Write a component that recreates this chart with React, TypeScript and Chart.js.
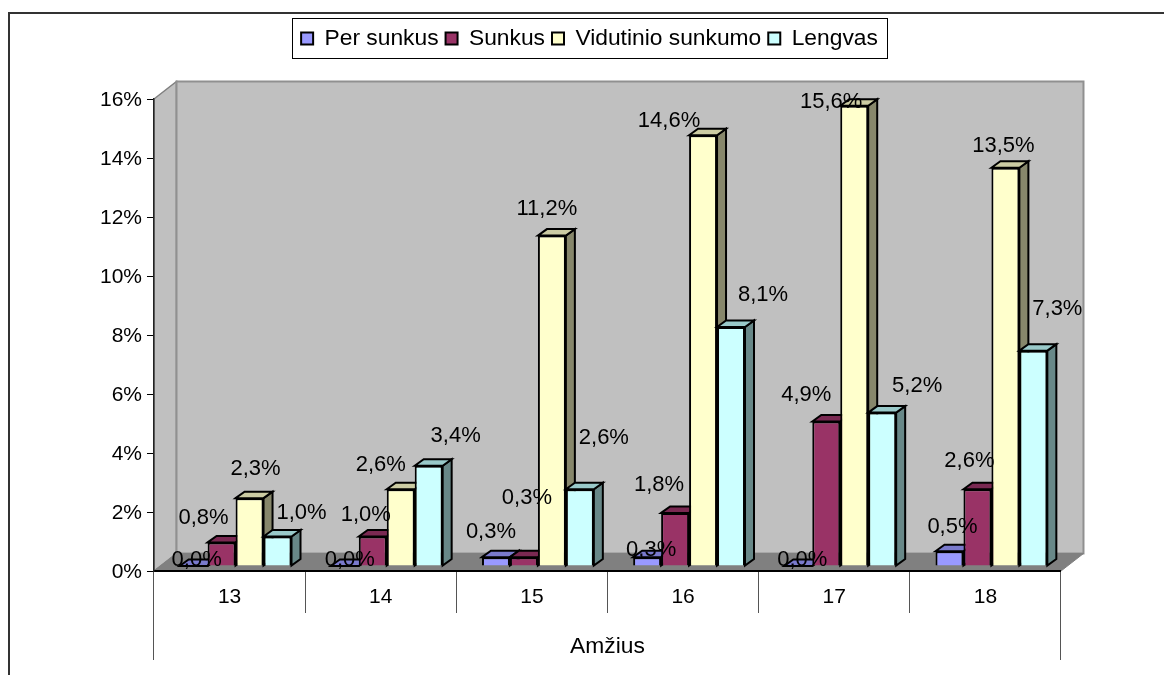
import React, { useEffect, useRef } from "react";
import { Chart, registerables } from "chart.js";

Chart.register(...registerables);

const ages = ["13", "14", "15", "16", "17", "18"];
const axisTitle = ["Amžius"];
const perSunkus = [0.0, 0.0, 0.3, 0.3, 0.0, 0.5];
const sunkus = [0.8, 1.0, 0.3, 1.8, 4.9, 2.6];
const vidutinio = [2.3, 2.6, 11.2, 14.6, 15.6, 13.5];
const lengvas = [1.0, 3.4, 2.6, 8.1, 5.2, 7.3];

// Where each value label sits relative to the top-centre of its bar
const labelShiftX = [
  [3, 5, -5, 4, 4, 3],
  [-18, -7, 3, -16, -20, -8],
  [6, -20, -5, -34, -23, -2],
  [24, 27, 24, 32, 35, 24],
];
const labelShiftY = [
  [-6, -6, -25, -7, -6, -24],
  [-24, -22, -59, -28, -27, -28],
  [-29, -24, -27, -14, -4, -22],
  [-24, -30, -51, -32, -27, -42],
];

const FONT = "'Liberation Sans', Arial, sans-serif";
const WALL = { dx: 22.5, dy: 17.5 };
const BAR_SHIFT = { dx: 6, dy: 5 };
const BAR_DEPTH = { dx: 9, dy: 6.5 };

const faces = [
  { front: "#9999FF", top: "#7A7ACC", side: "#5C5C99" },
  { front: "#993366", top: "#7A2952", side: "#5C1F3D" },
  { front: "#FFFFCC", top: "#CCCCA3", side: "#87876B" },
  { front: "#CCFFFF", top: "#99C9C9", side: "#688888" },
];

function poly(ctx: CanvasRenderingContext2D, pts: number[][], fill: string, stroke: string, lw: number) {
  ctx.beginPath();
  pts.forEach((p, i) => (i ? ctx.lineTo(p[0], p[1]) : ctx.moveTo(p[0], p[1])));
  ctx.closePath();
  ctx.fillStyle = fill;
  ctx.fill();
  ctx.lineWidth = lw;
  ctx.lineJoin = "miter";
  ctx.strokeStyle = stroke;
  ctx.stroke();
}

const excel3d = {
  id: "excel3d",
  beforeLayout(chart: any) {
    const legend = chart.legend;
    if (legend && !legend.fixedFit) {
      const fit = legend.fit;
      legend.fit = function () {
        fit.call(this);
        this.height = 79;
      };
      legend.fixedFit = true;
    }
  },
  beforeDraw(chart: any) {
    const { ctx, chartArea: a } = chart;
    ctx.save();
    ctx.fillStyle = "#fff";
    ctx.fillRect(0, 0, chart.width, chart.height);
    // outer frame
    ctx.strokeStyle = "#333";
    ctx.lineWidth = 2;
    ctx.beginPath();
    ctx.moveTo(9, chart.height);
    ctx.lineTo(9, 13);
    ctx.lineTo(chart.width, 13);
    ctx.stroke();
    // legend frame
    const hb = chart.legend.legendHitBoxes;
    const last = hb[hb.length - 1];
    ctx.lineWidth = 1;
    ctx.strokeStyle = "#000";
    ctx.strokeRect(Math.round(hb[0].left - 9) + 0.5, 18.5, Math.round(last.left + last.width - hb[0].left + 18), 40);
    // walls and floor
    const { dx, dy } = WALL;
    poly(ctx, [[a.left, a.top], [a.left + dx, a.top - dy], [a.left + dx, a.bottom - dy], [a.left, a.bottom]], "#C0C0C0", "#808080", 1.5);
    poly(ctx, [[a.left + dx, a.top - dy], [a.right + dx, a.top - dy], [a.right + dx, a.bottom - dy], [a.left + dx, a.bottom - dy]], "#C0C0C0", "#909090", 2);
    poly(ctx, [[a.left, a.bottom], [a.right, a.bottom], [a.right + dx, a.bottom - dy], [a.left + dx, a.bottom - dy]], "#808080", "#808080", 1);
    ctx.restore();
  },
  beforeDatasetsDraw(chart: any) {
    const ctx = chart.ctx;
    ctx.save();
    ctx.translate(BAR_SHIFT.dx, -BAR_SHIFT.dy);
    chart.data.datasets.forEach((_: any, i: number) => {
      const meta = chart.getDatasetMeta(i);
      const f = faces[i];
      meta.data.forEach((el: any) => {
        const { x, y, base, width } = el.getProps(["x", "y", "base", "width"], true);
        const l = x - width / 2;
        const r = x + width / 2;
        const { dx, dy } = BAR_DEPTH;
        poly(ctx, [[r, y], [r + dx, y - dy], [r + dx, base - dy], [r, base]], f.side, "#000", 2);
        poly(ctx, [[l, y], [l + dx, y - dy], [r + dx, y - dy], [r, y]], f.top, "#000", 2);
      });
      meta.controller.draw();
    });
    ctx.restore();
    return false;
  },
  afterDraw(chart: any) {
    const ctx = chart.ctx;
    ctx.save();
    ctx.font = `22px ${FONT}`;
    ctx.fillStyle = "#000";
    ctx.textAlign = "center";
    ctx.textBaseline = "middle";
    chart.data.datasets.forEach((ds: any, i: number) => {
      chart.getDatasetMeta(i).data.forEach((el: any, j: number) => {
        const { x, y } = el.getProps(["x", "y"], true);
        const text = ds.data[j].toFixed(1).replace(".", ",") + "%";
        ctx.fillText(text, x + BAR_SHIFT.dx + labelShiftX[i][j], y - BAR_SHIFT.dy + labelShiftY[i][j]);
      });
    });
    ctx.restore();
  },
};

export default function App() {
  const ref = useRef<HTMLCanvasElement>(null);
  useEffect(() => {
    const series = [
      ["Per sunkus", perSunkus],
      ["Sunkus", sunkus],
      ["Vidutinio sunkumo", vidutinio],
      ["Lengvas", lengvas],
    ] as [string, number[]][];
    const chart = new Chart(ref.current as HTMLCanvasElement, {
      type: "bar",
      plugins: [excel3d as any],
      data: {
        labels: ages,
        datasets: series.map(([label, data], i) => ({
          label,
          data,
          xAxisID: "x",
          yAxisID: "y",
          backgroundColor: faces[i].front,
          borderColor: "#000",
          borderWidth: 2,
          categoryPercentage: 0.74,
          barPercentage: 1,
        })),
      },
      options: {
        responsive: false,
        animation: false,
        events: [],
        layout: { padding: { left: 117.99, right: 103.01, top: 20, bottom: 15 } },
        font: { family: FONT },
        plugins: {
          tooltip: { enabled: false },
          title: { display: false },
          legend: {
            display: true,
            position: "top",
            labels: {
              boxWidth: 12,
              boxHeight: 12,
              padding: 7,
              color: "#000",
              font: { family: FONT, size: 22.8 },
            },
          },
        },
        scales: {
          x: {
            type: "category",
            position: "bottom",
            weight: 0,
            offset: true,
            afterFit: (s: any) => { s.height = 42; },
            border: { display: true, color: "#000", width: 2 },
            grid: { offset: true, drawOnChartArea: false, tickLength: 42, tickColor: "#555", lineWidth: 1 },
            ticks: { padding: -28, color: "#000", autoSkip: false, maxRotation: 0, font: { family: FONT, size: 21 } },
          },
          x2: {
            type: "category",
            position: "bottom",
            weight: 1,
            labels: axisTitle,
            offset: true,
            afterFit: (s: any) => { s.height = 47; },
            border: { display: false },
            grid: { offset: true, drawOnChartArea: false, tickLength: 47, tickColor: "#555", lineWidth: 1 },
            ticks: { padding: -27, color: "#000", autoSkip: false, maxRotation: 0, font: { family: FONT, size: 22.8 } },
          },
          y: {
            min: 0,
            max: 16,
            afterFit: (s: any) => {
              s.width = 36;
              s._computeLabelArea = () => undefined;
            },
            border: { display: true, color: "#222", width: 1.5 },
            grid: { drawOnChartArea: false, tickLength: 7, tickColor: "#000" },
            ticks: {
              stepSize: 2,
              padding: 5,
              labelOffset: 1.5,
              color: "#000",
              font: { family: FONT, size: 21 },
              callback: (v: any) => `${v}%`,
            },
          },
        },
      } as any,
    });
    return () => chart.destroy();
  }, []);
  return (
    <div style={{ position: "absolute", left: 0, top: 0, width: 1164, height: 675 }}>
      <canvas ref={ref} width={1164} height={675} style={{ display: "block" }} />
    </div>
  );
}
